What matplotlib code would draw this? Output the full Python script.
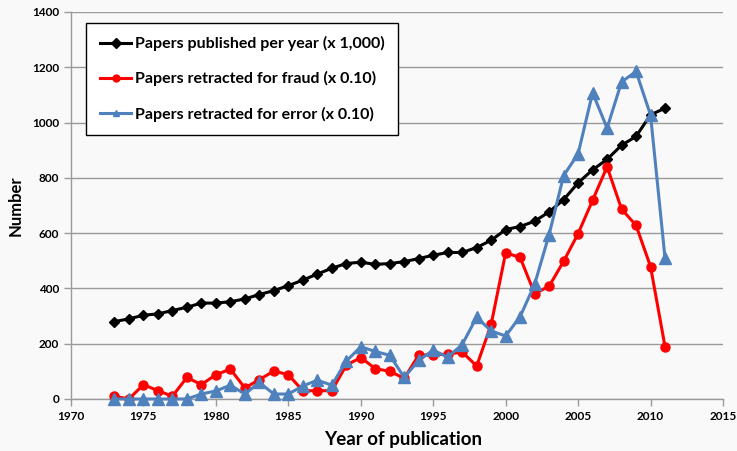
import matplotlib.pyplot as plt
import numpy as np

# Years 1973-2011
years = list(range(1973, 2012))

# Papers published per year (x 1,000)
published = [280, 290, 303, 308, 320, 332, 347, 347, 352, 362,
             378, 392, 410, 430, 452, 473, 490, 495, 487, 490,
             497, 508, 520, 530, 530, 548, 574, 613, 624, 643,
             677, 721, 782, 829, 867, 918, 950, 1028, 1052]

# Papers retracted for fraud (x 0.10)
fraud = [10, 0, 52, 30, 10, 78, 52, 88, 108, 40,
         70, 101, 88, 30, 30, 30, 122, 150, 110, 100,
         75, 159, 160, 162, 170, 119, 270, 529, 512, 381,
         408, 498, 598, 719, 840, 687, 628, 479, 189]

# Papers retracted for error (x 0.10)
error = [0, 0, 0, 0, 0, 0, 18, 29, 50, 18,
         60, 18, 18, 47, 68, 50, 137, 189, 172, 158,
         78, 140, 177, 151, 197, 296, 246, 228, 298, 415,
         595, 808, 887, 1108, 980, 1147, 1185, 1027, 509]

bg = '#f9f9f9'
plt.rcParams['font.family'] = ['Lato', 'DejaVu Sans']

fig = plt.figure(figsize=(7.37, 4.51), dpi=100, facecolor=bg)
ax = fig.add_axes([0.0963, 0.1153, 0.8847, 0.8581], facecolor=bg)

ax.plot(years, published, color='black', lw=2.2, marker='D', ms=5.5,
        label='Papers published per year (x 1,000)', zorder=3, clip_on=False)
ax.plot(years, fraud, color='#ff0000', lw=2.2, marker='o', ms=6.5,
        label='Papers retracted for fraud (x 0.10)', zorder=4, clip_on=False)
ax.plot(years, error, color='#4f81bd', lw=2.2, marker='^', ms=8.5,
        label='Papers retracted for error (x 0.10)', zorder=5, clip_on=False)

ax.set_xlim(1970, 2015)
ax.set_ylim(0, 1400)
ax.set_xticks(np.arange(1970, 2016, 5))
ax.set_yticks(np.arange(0, 1401, 200))
ax.yaxis.grid(True, color='#9a9a9a', lw=1.0)
ax.set_axisbelow(True)

for s in ['top', 'right']:
    ax.spines[s].set_visible(False)
for s in ['left', 'bottom']:
    ax.spines[s].set_color('#9a9a9a')
    ax.spines[s].set_linewidth(1.0)
ax.tick_params(axis='both', colors='#9a9a9a', length=5, width=1.0,
               labelcolor='black', labelsize=8.5)
for lab in ax.get_xticklabels() + ax.get_yticklabels():
    lab.set_fontweight('bold')

# x label placed explicitly so it stays inside the figure
fig.text(403 / 737, 1 - 440 / 451, 'Year of publication', fontsize=13.5,
         fontweight='bold', ha='center', va='center')
ax.set_ylabel('Number', fontsize=12, fontweight='bold', labelpad=6)

leg = ax.legend(loc='upper left', bbox_to_anchor=(0.023, 0.972), frameon=True,
                fancybox=False, edgecolor='black', facecolor='white',
                framealpha=1, prop={'weight': 'bold', 'size': 11.5},
                labelspacing=1.25, borderpad=0.85, handlelength=2.0,
                handletextpad=0.2, borderaxespad=0)
leg.set_zorder(6)
leg.get_frame().set_linewidth(1.0)
for h in leg.legend_handles:
    h.set_markersize(5)

fig.savefig('out.png', dpi=100, facecolor=bg)
